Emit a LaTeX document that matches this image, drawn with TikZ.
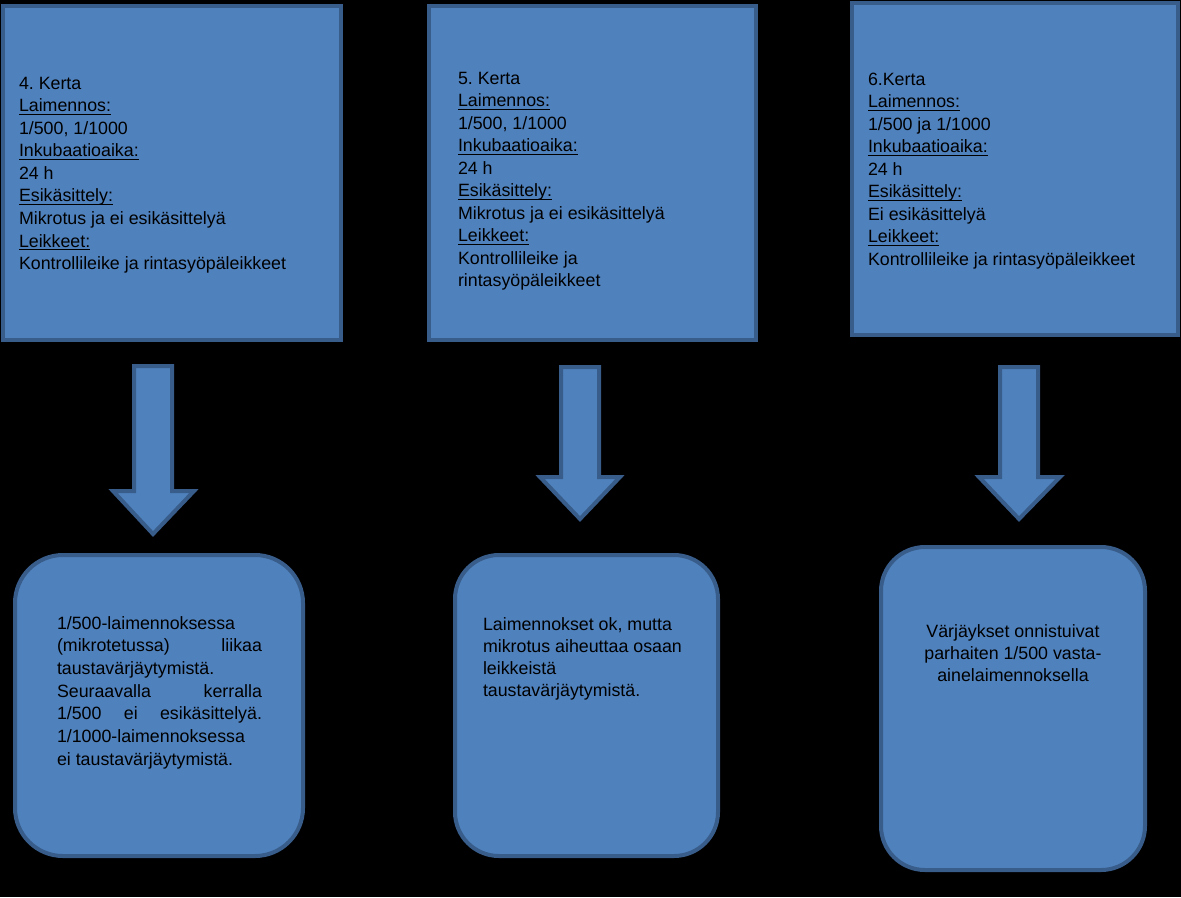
\documentclass[tikz,border=0pt]{standalone}
\usepackage{fontspec}
\setmainfont{Liberation Sans}
\usetikzlibrary{fit}
\definecolor{boxfill}{HTML}{4F81BD}
\definecolor{boxline}{HTML}{385D8A}
\newcommand\hdr[1]{\setbox0\hbox{#1}\rlap{\rule[-2.4pt]{\wd0}{0.9pt}}\box0}
\begin{document}
\frenchspacing
\begin{tikzpicture}[x=0.75pt,y=-0.75pt,
  shapebox/.style={draw=boxline, fill=boxfill, line width=3pt, inner sep=0pt, outer sep=0pt},
  blockarrow/.style={draw=boxline, fill=boxfill, line width=3pt, line join=miter},
  txt/.style={inner sep=0pt, outer sep=0pt, font=\fontsize{13.35pt}{16.9pt}\selectfont, text=black}]
\fill[black] (0,0) rectangle (1181,897);
\useasboundingbox (0,0) rectangle (1181,897);

% top boxes
\node[shapebox, fit={(3,6) (341,340)}] (b1) {};
\node[shapebox, fit={(429,6) (756,340)}] (b2) {};
\node[shapebox, fit={(852,3) (1178,335)}] (b3) {};

% bottom rounded boxes
\node[shapebox, rounded corners=36pt, fit={(15,555) (303,856)}] (b4) {};
\node[shapebox, rounded corners=33pt, fit={(455,555) (718,856)}] (b5) {};
\node[shapebox, rounded corners=33pt, fit={(881,547) (1145,870)}] (b6) {};

% block arrows
\draw[blockarrow] (134,366) -- (172,366) -- (172,491) -- (194,491) -- (153,534) -- (113,491) -- (134,491) -- cycle;
\draw[blockarrow] (561,367) -- (599,367) -- (599,477) -- (620,477) -- (580,519) -- (540,477) -- (561,477) -- cycle;
\draw[blockarrow] (1000,367) -- (1038,367) -- (1038,477) -- (1060,477) -- (1019,519) -- (979,477) -- (1000,477) -- cycle;

% texts of the top boxes
\node[txt, anchor=base west] (t1) at (19,89.3) {\vtop{\baselineskip=16.9pt
  \hbox{4. Kerta}
  \hbox{\hdr{Laimennos:}}
  \hbox{1/500, 1/1000}
  \hbox{\hdr{Inkubaatioaika:}}
  \hbox{24 h}
  \hbox{\hdr{Esikäsittely:}}
  \hbox{Mikrotus ja ei esikäsittelyä}
  \hbox{\hdr{Leikkeet:}}
  \hbox{Kontrollileike ja rintasyöpäleikkeet}}};

\node[txt, anchor=base west] (t2) at (458,84) {\vtop{\baselineskip=16.9pt
  \hbox{5. Kerta}
  \hbox{\hdr{Laimennos:}}
  \hbox{1/500, 1/1000}
  \hbox{\hdr{Inkubaatioaika:}}
  \hbox{24 h}
  \hbox{\hdr{Esikäsittely:}}
  \hbox{Mikrotus ja ei esikäsittelyä}
  \hbox{\hdr{Leikkeet:}}
  \hbox{Kontrollileike ja}
  \hbox{rintasyöpäleikkeet}}};

\node[txt, anchor=base west] (t3) at (868,85) {\vtop{\baselineskip=16.9pt
  \hbox{6.Kerta}
  \hbox{\hdr{Laimennos:}}
  \hbox{1/500 ja 1/1000}
  \hbox{\hdr{Inkubaatioaika:}}
  \hbox{24 h}
  \hbox{\hdr{Esikäsittely:}}
  \hbox{Ei esikäsittelyä}
  \hbox{\hdr{Leikkeet:}}
  \hbox{Kontrollileike ja rintasyöpäleikkeet}}};

% texts of the bottom boxes
\node[txt, anchor=base west] (t4) at (57,629) {\vtop{\baselineskip=17pt
  \hbox{1/500-laimennoksessa}
  \hbox to 153.75pt{(mikrotetussa)\hfill liikaa}
  \hbox{taustavärjäytymistä.}
  \hbox to 153.75pt{Seuraavalla\hfill kerralla}
  \hbox to 153.75pt{1/500\hfill ei\hfill esikäsittelyä.}
  \hbox{1/1000-laimennoksessa}
  \hbox{ei taustavärjäytymistä.}}};

\node[txt, anchor=base west] (t5) at (483,630) {\vtop{\baselineskip=16.5pt
  \hbox{Laimennokset ok, mutta}
  \hbox{mikrotus aiheuttaa osaan}
  \hbox{leikkeistä}
  \hbox{taustavärjäytymistä.}}};

\node[txt, anchor=base] (t6) at (1013,637) {\vtop{\baselineskip=16.5pt
  \hbox to 180pt{\hfil Värjäykset onnistuivat\hfil}
  \hbox to 180pt{\hfil parhaiten 1/500 vasta-\hfil}
  \hbox to 180pt{\hfil ainelaimennoksella\hfil}}};
\end{tikzpicture}
\end{document}
